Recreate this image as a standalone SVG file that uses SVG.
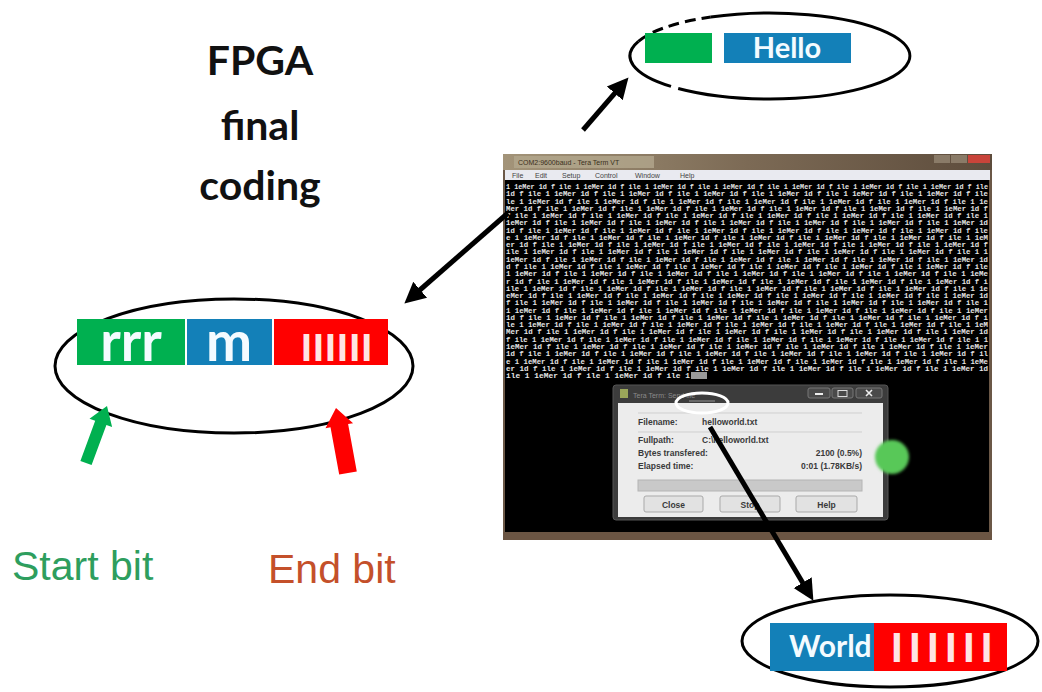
<svg xmlns="http://www.w3.org/2000/svg" width="1042" height="692" viewBox="0 0 1042 692">
  <style>
    .title { font-family: Lato, "Open Sans", sans-serif; font-weight: 700; font-size: 41px; fill: #111; text-anchor: middle; }
    .cell { font-family: Lato, "Open Sans", sans-serif; font-weight: 700; fill: #f4fbff; }
    .bars { font-family: "Liberation Sans", Arial, sans-serif; font-weight: 700; fill: #ffe4e4; }
    .ring { fill: none; stroke: #000; stroke-width: 3; }
    .note { font-family: "Liberation Sans", Arial, sans-serif; font-size: 41px; }
    .tt { font-family: "Liberation Mono", monospace; font-weight: 700; font-size: 7.6px; fill: #e6e6e6; white-space: pre; }
    .menu { font-family: "Liberation Sans", Arial, sans-serif; font-size: 7px; }
    .dlg { font-family: "Liberation Sans", Arial, sans-serif; font-weight: 700; font-size: 8.5px; fill: #3a3a3a; }
    .btn { fill: #e2e2e2; stroke: #a9a9a9; stroke-width: 1; }
    .wire { fill: none; stroke: #000; stroke-width: 5; marker-end: url(#head); }
  </style>
  <defs>
    <marker id="head" viewBox="0 0 10 10" refX="2" refY="5" markerWidth="4.2" markerHeight="4.6" orient="auto" markerUnits="strokeWidth">
      <path d="M0,0 L10,5 L0,10 z" fill="#000"/>
    </marker>
    <linearGradient id="titlebar" x1="0" y1="0" x2="1" y2="0">
      <stop offset="0" stop-color="#a39479"/>
      <stop offset="0.5" stop-color="#7c6a55"/>
      <stop offset="1" stop-color="#5d4c3c"/>
    </linearGradient>
    <filter id="soft" x="-30%" y="-30%" width="160%" height="160%">
      <feGaussianBlur stdDeviation="1.6"/>
    </filter>
  </defs>

  <rect width="1042" height="692" fill="#fff"/>

  <!-- heading -->
  <g id="title">
    <text class="title" x="260" y="75">FPGA</text>
    <text class="title" x="260" y="140">final</text>
    <text class="title" x="260" y="200">coding</text>
  </g>

  <!-- first received frame: start block + "Hello" -->
  <g id="node-hello">
    <path class="ring" d="M710.8,17 A140 43 0 1 1 678.2,88.5 M671,86.4 A140 43 0 0 1 638.4,41.3"/>
    <path class="ring" stroke-dasharray="11 6" d="M638.4,41.3 A140 43 0 0 1 710.8,17"/>
    <rect x="645" y="33" width="67" height="30" fill="#00b050"/>
    <rect x="724" y="33" width="127" height="30" fill="#1380b8"/>
    <text class="cell" x="787" y="58" font-size="29" text-anchor="middle">Hello</text>
  </g>

  <!-- frame layout: start bits, message, end bits -->
  <g id="node-frame">
    <ellipse class="ring" cx="234" cy="366" rx="179" ry="67"/>
    <rect x="77" y="319" width="108" height="46" fill="#00b050"/>
    <rect x="187" y="319" width="85" height="46" fill="#1380b8"/>
    <rect x="274" y="319" width="114" height="46" fill="#ff0000"/>
    <text class="cell" x="131" y="361" font-size="55" text-anchor="middle">rrr</text>
    <text class="cell" x="229" y="361" font-size="55" text-anchor="middle">m</text>
    <text class="bars" x="301" y="361" font-size="39" letter-spacing="1.2">IIIIII</text>
  </g>

  <!-- start / end bit pointers -->
  <g id="node-start">
    <polygon points="80.4,460.9 95.2,420.8 89.5,418.7 107,406 112.1,427.1 106.4,425 91.6,465.1" fill="#00b050"/>
    <text class="note" x="12" y="580" fill="#2e9e5e">Start bit</text>
  </g>
  <g id="node-end">
    <polygon points="339.2,474.6 330.5,427.3 325.5,428.2 336,408 353.1,423.2 348.1,424.1 356.8,471.4" fill="#ff0000"/>
    <text class="note" x="268" y="583" fill="#c4502a">End bit</text>
  </g>

  <!-- terminal window -->
  <g id="node-terminal">
    <rect x="503" y="154" width="489" height="386" fill="#6b5847"/>
    <rect x="503" y="154" width="489" height="16" fill="url(#titlebar)"/>
    <rect x="514" y="156" width="140" height="12" fill="#b3a78d" opacity="0.8"/>
    <text class="menu" x="518" y="165" style="fill:#3a3020">COM2:9600baud - Tera Term VT</text>
    <rect x="934" y="155" width="16" height="8" fill="#8a7b68"/>
    <rect x="951" y="155" width="16" height="8" fill="#8a7b68"/>
    <rect x="968" y="155" width="22" height="8" fill="#c9443a"/>
    <rect x="505" y="170" width="485" height="10" fill="#e9eaf0"/>
    <text class="menu" y="177.5" style="fill:#444"><tspan x="512">File</tspan><tspan x="535">Edit</tspan><tspan x="562">Setup</tspan><tspan x="595">Control</tspan><tspan x="635">Window</tspan><tspan x="680">Help</tspan></text>
    <rect x="505" y="180" width="484" height="352" fill="#000"/>
    <g class="tt" xml:space="preserve" transform="translate(0,1)">
      <text x="506" y="188" textLength="482" lengthAdjust="spacingAndGlyphs">1 1eMer 1d f ile 1 1eMer 1d f ile 1 1eMer 1d f ile 1 1eMer 1d f ile 1 1eMer 1d f ile 1 1eMer 1d f ile 1 1eMer 1d f ile</text>
      <text x="506" y="195.3" textLength="482" lengthAdjust="spacingAndGlyphs"> 1d f ile 1 1eMer 1d f ile 1 1eMer 1d f ile 1 1eMer 1d f ile 1 1eMer 1d f ile 1 1eMer 1d f ile 1 1eMer 1d f ile</text>
      <text x="506" y="202.5" textLength="482" lengthAdjust="spacingAndGlyphs">le 1 1eMer 1d f ile 1 1eMer 1d f ile 1 1eMer 1d f ile 1 1eMer 1d f ile 1 1eMer 1d f ile 1 1eMer 1d f ile 1 1e</text>
      <text x="506" y="209.8" textLength="482" lengthAdjust="spacingAndGlyphs">Mer 1d f ile 1 1eMer 1d f ile 1 1eMer 1d f ile 1 1eMer 1d f ile 1 1eMer 1d f ile 1 1eMer 1d f ile 1 1eMer 1d f</text>
      <text x="506" y="217.1" textLength="482" lengthAdjust="spacingAndGlyphs">f ile 1 1eMer 1d f ile 1 1eMer 1d f ile 1 1eMer 1d f ile 1 1eMer 1d f ile 1 1eMer 1d f ile 1 1eMer 1d f ile 1</text>
      <text x="506" y="224.4" textLength="482" lengthAdjust="spacingAndGlyphs"> 1eMer 1d f ile 1 1eMer 1d f ile 1 1eMer 1d f ile 1 1eMer 1d f ile 1 1eMer 1d f ile 1 1eMer 1d f ile 1 1eMer 1d</text>
      <text x="506" y="231.6" textLength="482" lengthAdjust="spacingAndGlyphs">1d f ile 1 1eMer 1d f ile 1 1eMer 1d f ile 1 1eMer 1d f ile 1 1eMer 1d f ile 1 1eMer 1d f ile 1 1eMer 1d f ile</text>
      <text x="506" y="238.9" textLength="482" lengthAdjust="spacingAndGlyphs">e 1 1eMer 1d f ile 1 1eMer 1d f ile 1 1eMer 1d f ile 1 1eMer 1d f ile 1 1eMer 1d f ile 1 1eMer 1d f ile 1 1eM</text>
      <text x="506" y="246.2" textLength="482" lengthAdjust="spacingAndGlyphs">er 1d f ile 1 1eMer 1d f ile 1 1eMer 1d f ile 1 1eMer 1d f ile 1 1eMer 1d f ile 1 1eMer 1d f ile 1 1eMer 1d f</text>
      <text x="506" y="253.4" textLength="482" lengthAdjust="spacingAndGlyphs"> ile 1 1eMer 1d f ile 1 1eMer 1d f ile 1 1eMer 1d f ile 1 1eMer 1d f ile 1 1eMer 1d f ile 1 1eMer 1d f ile 1 1</text>
      <text x="506" y="260.7" textLength="482" lengthAdjust="spacingAndGlyphs">1eMer 1d f ile 1 1eMer 1d f ile 1 1eMer 1d f ile 1 1eMer 1d f ile 1 1eMer 1d f ile 1 1eMer 1d f ile 1 1eMer 1d</text>
      <text x="506" y="268" textLength="482" lengthAdjust="spacingAndGlyphs">d f ile 1 1eMer 1d f ile 1 1eMer 1d f ile 1 1eMer 1d f ile 1 1eMer 1d f ile 1 1eMer 1d f ile 1 1eMer 1d f ile</text>
      <text x="506" y="275.2" textLength="482" lengthAdjust="spacingAndGlyphs"> 1 1eMer 1d f ile 1 1eMer 1d f ile 1 1eMer 1d f ile 1 1eMer 1d f ile 1 1eMer 1d f ile 1 1eMer 1d f ile 1 1eMe</text>
      <text x="506" y="282.5" textLength="482" lengthAdjust="spacingAndGlyphs">r 1d f ile 1 1eMer 1d f ile 1 1eMer 1d f ile 1 1eMer 1d f ile 1 1eMer 1d f ile 1 1eMer 1d f ile 1 1eMer 1d f i</text>
      <text x="506" y="289.8" textLength="482" lengthAdjust="spacingAndGlyphs">ile 1 1eMer 1d f ile 1 1eMer 1d f ile 1 1eMer 1d f ile 1 1eMer 1d f ile 1 1eMer 1d f ile 1 1eMer 1d f ile 1 1e</text>
      <text x="506" y="297.1" textLength="482" lengthAdjust="spacingAndGlyphs">eMer 1d f ile 1 1eMer 1d f ile 1 1eMer 1d f ile 1 1eMer 1d f ile 1 1eMer 1d f ile 1 1eMer 1d f ile 1 1eMer 1d</text>
      <text x="506" y="304.3" textLength="482" lengthAdjust="spacingAndGlyphs"> f ile 1 1eMer 1d f ile 1 1eMer 1d f ile 1 1eMer 1d f ile 1 1eMer 1d f ile 1 1eMer 1d f ile 1 1eMer 1d f ile 1</text>
      <text x="506" y="311.6" textLength="482" lengthAdjust="spacingAndGlyphs">1 1eMer 1d f ile 1 1eMer 1d f ile 1 1eMer 1d f ile 1 1eMer 1d f ile 1 1eMer 1d f ile 1 1eMer 1d f ile 1 1eMer</text>
      <text x="506" y="318.9" textLength="482" lengthAdjust="spacingAndGlyphs"> 1d f ile 1 1eMer 1d f ile 1 1eMer 1d f ile 1 1eMer 1d f ile 1 1eMer 1d f ile 1 1eMer 1d f ile 1 1eMer 1d f i</text>
      <text x="506" y="326.1" textLength="482" lengthAdjust="spacingAndGlyphs">le 1 1eMer 1d f ile 1 1eMer 1d f ile 1 1eMer 1d f ile 1 1eMer 1d f ile 1 1eMer 1d f ile 1 1eMer 1d f ile 1 1eM</text>
      <text x="506" y="333.4" textLength="482" lengthAdjust="spacingAndGlyphs">Mer 1d f ile 1 1eMer 1d f ile 1 1eMer 1d f ile 1 1eMer 1d f ile 1 1eMer 1d f ile 1 1eMer 1d f ile 1 1eMer 1d</text>
      <text x="506" y="340.7" textLength="482" lengthAdjust="spacingAndGlyphs">f ile 1 1eMer 1d f ile 1 1eMer 1d f ile 1 1eMer 1d f ile 1 1eMer 1d f ile 1 1eMer 1d f ile 1 1eMer 1d f ile 1 1</text>
      <text x="506" y="348" textLength="482" lengthAdjust="spacingAndGlyphs"> 1eMer 1d f ile 1 1eMer 1d f ile 1 1eMer 1d f ile 1 1eMer 1d f ile 1 1eMer 1d f ile 1 1eMer 1d f ile 1 1eMer</text>
      <text x="506" y="355.2" textLength="482" lengthAdjust="spacingAndGlyphs">1d f ile 1 1eMer 1d f ile 1 1eMer 1d f ile 1 1eMer 1d f ile 1 1eMer 1d f ile 1 1eMer 1d f ile 1 1eMer 1d f il</text>
      <text x="506" y="362.5" textLength="482" lengthAdjust="spacingAndGlyphs">e 1 1eMer 1d f ile 1 1eMer 1d f ile 1 1eMer 1d f ile 1 1eMer 1d f ile 1 1eMer 1d f ile 1 1eMer 1d f ile 1 1eMe</text>
      <text x="506" y="369.8" textLength="482" lengthAdjust="spacingAndGlyphs">er 1d f ile 1 1eMer 1d f ile 1 1eMer 1d f ile 1 1eMer 1d f ile 1 1eMer 1d f ile 1 1eMer 1d f ile 1 1eMer 1d</text>
      <text x="506" y="377" textLength="184" lengthAdjust="spacingAndGlyphs"> ile 1 1eMer 1d f ile 1 1eMer 1d f ile 1</text>
    </g>
    <rect x="691" y="372" width="16" height="7" fill="#9a9a9a"/>
    <rect x="503" y="532" width="489" height="8" fill="#6b5543"/>
  </g>

  <!-- send-file dialog inside the terminal -->
  <g id="node-dialog">
    <rect x="613" y="385" width="275" height="135" rx="3" fill="#3c3c3c" stroke="#555"/>
    <rect x="620" y="389" width="8" height="9" fill="#9aa65a"/>
    <text class="menu" x="633" y="398" style="fill:#8a8a8a">Tera Term: Send file</text>
    <rect x="808" y="388" width="22" height="10" rx="2" fill="#4a4a4a" stroke="#777"/>
    <rect x="832" y="388" width="21" height="10" rx="2" fill="#4a4a4a" stroke="#777"/>
    <rect x="856" y="388" width="26" height="10" rx="2" fill="#4a4a4a" stroke="#777"/>
    <line x1="815" y1="394" x2="823" y2="394" stroke="#eee" stroke-width="2"/>
    <rect x="838" y="390.5" width="9" height="6" fill="none" stroke="#ddd"/>
    <path d="M866,390 L872,396 M872,390 L866,396" stroke="#eee" stroke-width="1.6"/>
    <rect x="618" y="403" width="265" height="114" fill="#ececec"/>
    <line x1="638" y1="413" x2="862" y2="413" stroke="#cfcfcf"/>
    <line x1="638" y1="432" x2="862" y2="432" stroke="#cfcfcf"/>
    <text class="dlg" x="638" y="425">Filename:</text>
    <text class="dlg" x="702" y="425">helloworld.txt</text>
    <text class="dlg" x="638" y="443">Fullpath:</text>
    <text class="dlg" x="702" y="443">C:\helloworld.txt</text>
    <text class="dlg" x="638" y="456">Bytes transfered:</text>
    <text class="dlg" x="862" y="456" text-anchor="end">2100 (0.5%)</text>
    <text class="dlg" x="638" y="469">Elapsed time:</text>
    <text class="dlg" x="862" y="469" text-anchor="end">0:01 (1.78KB/s)</text>
    <rect x="638" y="480" width="224" height="11" fill="#c9c9c9" stroke="#b4b4b4"/>
    <rect class="btn" x="644" y="496" width="59" height="16" rx="2"/>
    <rect class="btn" x="720" y="496" width="60" height="16" rx="2"/>
    <rect class="btn" x="796" y="496" width="61" height="16" rx="2"/>
    <text class="dlg" x="673.5" y="508" text-anchor="middle">Close</text>
    <text class="dlg" x="750" y="508" text-anchor="middle">Stop</text>
    <text class="dlg" x="826.5" y="508" text-anchor="middle">Help</text>
    <ellipse cx="702" cy="403" rx="26" ry="10" fill="none" stroke="#fff" stroke-width="3"/>
    <line x1="689" y1="401" x2="715" y2="401" stroke="#777" stroke-width="1.5"/>
    <circle cx="892" cy="457" r="17" fill="#58c858" filter="url(#soft)"/>
  </g>

  <!-- second received frame: "World" + end bits -->
  <g id="node-world">
    <ellipse class="ring" cx="890" cy="641" rx="148" ry="46"/>
    <rect x="770" y="623" width="104" height="48" fill="#1380b8"/>
    <rect x="874" y="623" width="133" height="48" fill="#ff0000"/>
    <text class="cell" x="789" y="657" font-size="30">World</text>
    <text class="bars" x="891" y="662" font-size="42" letter-spacing="6.3">IIIIII</text>
  </g>

  <!-- connectors -->
  <g id="connectors">
    <line class="wire" x1="583" y1="130" x2="617.5" y2="90.1"/>
    <line class="wire" x1="508" y1="213" x2="417" y2="292.5"/>
    <line class="wire" x1="710" y1="427" x2="804.8" y2="586.3"/>
  </g>
</svg>
